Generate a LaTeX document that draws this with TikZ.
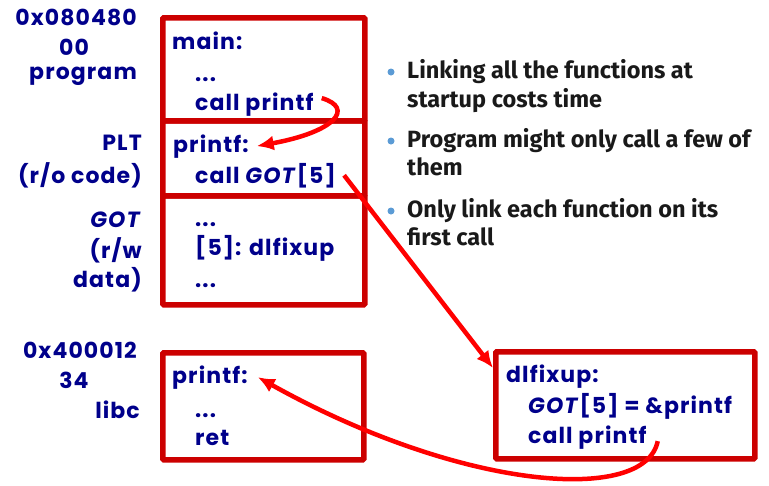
\documentclass[tikz,border=0pt]{standalone}
\usepackage{fontspec}
\usepackage{tikz}
\usetikzlibrary{calc,arrows.meta}
\newfontfamily\codefont{Poppins}[LetterSpace=5]
\newfontfamily\slidefont{Fira Sans}
\definecolor{codeblue}{RGB}{0,0,139}
\definecolor{boxred}{RGB}{204,0,0}
\definecolor{linkred}{RGB}{255,0,0}
\definecolor{dotblue}{RGB}{91,155,213}
\newcommand{\gotname}{\textit{GOT}}

\begin{document}
\begin{tikzpicture}[x=1pt,y=-1pt,>={Latex[length=17pt,width=15pt]},
  box/.style={draw=boxred,line width=5.5pt,rounded corners=1pt,inner sep=0pt,anchor=north west},
  code/.style={anchor=base west,inner sep=0pt,text=codeblue,font=\codefont\bfseries\fontsize{22}{22}\selectfont},
  lbl/.style={code,anchor=base east},
  bullet/.style={anchor=base west,inner sep=0pt,text={black!90},font=\slidefont\bfseries\fontsize{23.5}{23.5}\selectfont},
  link/.style={->,draw=linkred,line width=4.5pt}]
  \useasboundingbox (0,0) rectangle (769,485);

  % memory boxes
  \node[box,minimum width=202pt,minimum height=103pt] (progbox) at (160,15) {};
  \node[box,minimum width=202pt,minimum height=75pt] (pltbox) at (160,118) {};
  \node[box,minimum width=202pt,minimum height=109pt] (gotbox) at (160,193) {};
  \node[box,minimum width=201pt,minimum height=107pt] (libbox) at (160,350) {};
  \node[box,minimum width=259pt,minimum height=107pt] (fixbox) at (493,349) {};

  % left labels
  \node[lbl] (addr1) at (137,25) {0x080480};
  \node[code,anchor=base] (addr1b) at (74,55) {00};
  \node[lbl] (progl) at (137,79) {program};
  \node[lbl] (pltl) at (142,150) {PLT};
  \node[lbl] (pltl2) at (142,183) {(r/o code)};
  \node[lbl] (gotl) at (142,227) {\gotname};
  \node[lbl] (gotl2) at (142,258) {(r/w};
  \node[lbl] (gotl3) at (142,287) {data)};
  \node[lbl] (addr2) at (137,358) {0x400012};
  \node[code,anchor=base] (addr2b) at (74,388) {34};
  \node[lbl] (libl) at (140,418) {libc};

  % code lines
  \node[code] (mainname) at (172,49) {main:};
  \node[code] (maindots) at (195,81) {...};
  \node[code] (maincall) at (195,110) {call printf};
  \node[code] (pltname) at (173,152) {printf:};
  \node[code] (pltcall) at (195,183) {call \gotname[5]};
  \node[code] (gotdots) at (195,226) {...};
  \node[code] (gotentry) at (195,255) {[5]: dlfixup};
  \node[code] (gotdots2) at (195,287) {...};
  \node[code] (libname) at (172,383) {printf:};
  \node[code] (libdots) at (195,417) {...};
  \node[code] (libret) at (195,445) {ret};
  \node[code] (fixname) at (506,382) {dlfixup:};
  \node[code] (fixset) at (528,413) {\gotname[5] = \&printf};
  \node[code] (fixcall) at (528,443) {call printf};

  % bullets
  \foreach \y in {72,141,211} \fill[dotblue] (391,\y) circle (3.5pt);
  \node[bullet] (b1) at (407,78) {Linking all the functions at};
  \node[bullet] (b1b) at (407,107) {startup costs time};
  \node[bullet] (b2) at (407,147) {Program might only call a few of};
  \node[bullet] (b2b) at (407,175) {them};
  \node[bullet] (b3) at (407,217) {Only link each function on its};
  \node[bullet] (b3b) at (407,245) {first call};

  % lazy binding arrows
  \draw[link] ([xshift=8pt,yshift=6pt]maincall.east) .. controls (355,108) and (335,132) .. ([xshift=8pt]pltname.east);
  \draw[link] ([xshift=8pt]pltcall.east) -- ([yshift=-19pt]fixbox.north west);
  \draw[link] ([xshift=11pt,yshift=-4pt]fixcall.east) .. controls (645,505) and (460,490) .. ([xshift=10pt]libname.east);
\end{tikzpicture}
\end{document}
